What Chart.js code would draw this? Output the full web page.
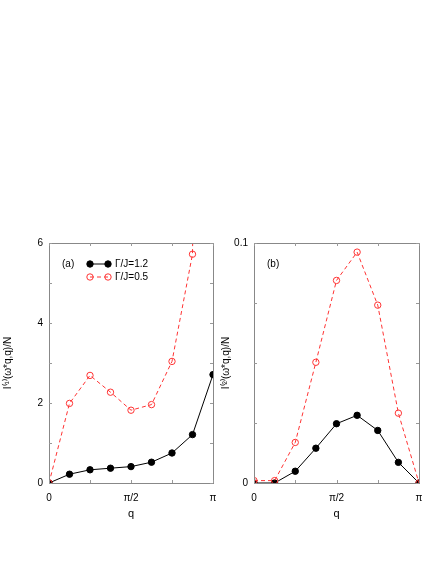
<!DOCTYPE html>
<html><head><meta charset="utf-8">
<script src="https://cdn.jsdelivr.net/npm/chart.js@4.4.1/dist/chart.umd.min.js"></script>
<style>
html,body{margin:0;padding:0;background:#fff;width:436px;height:564px;overflow:hidden;}
.box{position:absolute;}
</style></head><body>
<div class="box" style="left:0;top:230px;width:220px;height:300px"><canvas id="ca"></canvas></div>
<div class="box" style="left:220px;top:230px;width:216px;height:300px"><canvas id="cb"></canvas></div>
<script>
// q values (k*pi/8)
const qValues = [0, 0.3927, 0.7854, 1.1781, 1.5708, 1.9635, 2.3562, 2.7489, 3.1416];
const xTicks = [0, 0.7854, 1.5708, 2.3562, 3.1416];
const xTickLabels = ["0", "", "\u03c0/2", "", "\u03c0"];
const seriesNames = ["\u0393/J=1.2", "\u0393/J=0.5"];

// panel (a)
const aGamma12 = [0, 0.22, 0.33, 0.37, 0.41, 0.52, 0.75, 1.21, 2.71];
const aGamma05 = [0, 1.99, 2.69, 2.27, 1.82, 1.96, 3.04, 5.72, 40];
const aYTicks = [0, 1, 2, 3, 4, 5, 6];
const aYTickLabels = ["0", "", "2", "", "4", "", "6"];

// panel (b)
const bGamma12 = [0, 0, 0.0049, 0.0145, 0.0247, 0.0282, 0.0219, 0.0086, 0];
const bGamma05 = [0.001, 0.001, 0.0169, 0.0503, 0.0844, 0.0962, 0.0741, 0.0291, 0];
const bYTicks = [0, 0.025, 0.05, 0.075, 0.1];
const bYTickLabels = ["0", "", "", "", "0.1"];

const FONT = "'Liberation Sans', Arial, sans-serif";
Chart.defaults.font.family = FONT;
Chart.defaults.font.size = 10;
Chart.defaults.color = '#000';

function pts(ys){ return ys.map((y,i)=>({x:qValues[i], y:y})); }

const framePlugin = {
  id:'frame',
  afterDatasetsDraw(chart, args, opts){
    const ctx = chart.ctx, a = chart.chartArea;
    const xs = chart.scales.x, ys = chart.scales.y;
    ctx.save();
    ctx.strokeStyle = '#888'; ctx.lineWidth = 1;
    ctx.strokeRect(Math.round(a.left)+0.5, Math.round(a.top)+0.5, Math.round(a.right-a.left), Math.round(a.bottom-a.top));
    ctx.strokeStyle = '#999';
    const L = 3;
    ctx.beginPath();
    xs.ticks.forEach(t=>{
      const px = Math.round(xs.getPixelForValue(t.value))+0.5;
      ctx.moveTo(px, a.bottom); ctx.lineTo(px, a.bottom-L);
      ctx.moveTo(px, a.top); ctx.lineTo(px, a.top+L);
    });
    ys.ticks.forEach(t=>{
      const py = Math.round(ys.getPixelForValue(t.value))+0.5;
      ctx.moveTo(a.left, py); ctx.lineTo(a.left+L, py);
      ctx.moveTo(a.right, py); ctx.lineTo(a.right-L, py);
    });
    ctx.stroke();
    // panel label and legend
    ctx.fillStyle = '#000';
    ctx.font = '10px ' + FONT;
    ctx.textBaseline = 'middle';
    ctx.textAlign = 'left';
    ctx.fillText(opts.tag, opts.tagX, opts.tagY);
    if (opts.legend){
      const rows = [chart.data.datasets[0], chart.data.datasets[1]];
      rows.forEach((ds,i)=>{
        const y = opts.legY + i*13, x0 = opts.legX, x1 = opts.legX+18;
        ctx.strokeStyle = ds.borderColor; ctx.lineWidth = 1;
        ctx.setLineDash(ds.borderDash || []);
        ctx.beginPath(); ctx.moveTo(x0,y); ctx.lineTo(x1,y); ctx.stroke();
        ctx.setLineDash([]);
        [x0,x1].forEach(x=>{
          ctx.beginPath(); ctx.arc(x,y,ds.pointRadius,0,Math.PI*2);
          if (ds.pointBackgroundColor !== 'rgba(0,0,0,0)'){ ctx.fillStyle = ds.pointBackgroundColor; ctx.fill(); }
          ctx.strokeStyle = ds.pointBorderColor; ctx.stroke();
        });
        ctx.fillStyle = '#000';
        ctx.fillText(ds.label, x1+7, y);
      });
    }
    ctx.restore();
  }
};

function makeChart(id, d12, d05, yTicks, yLabels, yMax, yTitle, yWidth, padRight, titlePad, frameOpts){
  return new Chart(document.getElementById(id), {
    type:'line',
    data:{ datasets:[
      { label:seriesNames[0], data:pts(d12), borderColor:'#000', borderWidth:1,
        pointRadius:3.2, pointBackgroundColor:'#000', pointBorderColor:'#000', pointBorderWidth:1, order:2, tension:0 },
      { label:seriesNames[1], data:pts(d05), borderColor:'#ff3333', borderWidth:1, borderDash:[4,3],
        pointRadius:3.2, pointBackgroundColor:'rgba(0,0,0,0)', pointBorderColor:'#ff3333', pointBorderWidth:1, order:1, tension:0 }
    ]},
    options:{
      responsive:true, maintainAspectRatio:false, animation:false,
      layout:{ padding:{ left:0, right:padRight, top:13, bottom:9 } },
      plugins:{ legend:{display:false}, tooltip:{enabled:false}, frame:frameOpts },
      scales:{
        x:{ type:'linear', min:0, max:Math.PI,
          afterBuildTicks(s){ s.ticks = xTicks.map(v=>({value:v})); },
          afterFit(s){ s.height = 38; s.paddingLeft = 0; s.paddingRight = 0; },
          ticks:{ padding:9, maxRotation:0, autoSkip:false, callback:(v,i)=>xTickLabels[i] },
          grid:{ display:false, drawTicks:false }, border:{ display:false },
          title:{ display:true, text:'q', padding:{top:4,bottom:0}, font:{size:11} } },
        y:{ type:'linear', min:0, max:yMax,
          afterBuildTicks(s){ s.ticks = yTicks.map(v=>({value:v})); },
          afterFit(s){ s.width = yWidth; s.paddingTop = 0; s.paddingBottom = 0; },
          ticks:{ padding:6, autoSkip:false, callback:(v,i)=>yLabels[i] },
          grid:{ display:false, drawTicks:false }, border:{ display:false },
          title:{ display:true, text:yTitle, padding:{top:titlePad,bottom:0}, font:{size:10} } }
      }
    },
    plugins:[framePlugin]
  });
}

makeChart('ca', aGamma12, aGamma05, aYTicks, aYTickLabels, 6,
  'I\u207D\u00B9\u207E(\u03C9*q,q)/N', 49, 7, 2,
  { tag:'(a)', tagX:62, tagY:34, legend:true, legX:90, legY:34 });
makeChart('cb', bGamma12, bGamma05, bYTicks, bYTickLabels, 0.1,
  'I\u207D\u00B2\u207E(\u03C9*q,q)/N', 34, 17, 0,
  { tag:'(b)', tagX:47, tagY:34, legend:false });
</script>
</body></html>
